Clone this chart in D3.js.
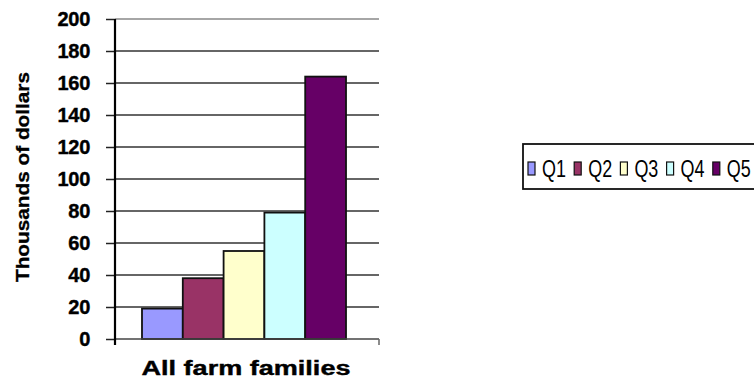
<!DOCTYPE html>
<html>
<head>
<meta charset="utf-8">
<script src="https://cdn.jsdelivr.net/npm/d3@7"></script>
<style>
  body { margin: 0; background: #fff; }
  svg { display: block; }
</style>
</head>
<body>
<svg id="chart" width="754" height="379"></svg>
<script>
const categories = ["All farm families"];
const seriesNames = ["Q1", "Q2", "Q3", "Q4", "Q5"];
const seriesValues = [19, 38, 55, 79, 164];
const seriesColors = ["#9999FF", "#993366", "#FFFFCC", "#CCFFFF", "#660066"];
const yTicks = [0, 20, 40, 60, 80, 100, 120, 140, 160, 180, 200];

const svg = d3.select("#chart");
const pL = 115, pR = 379, pT = 19, pB = 339;

const y = d3.scaleLinear().domain([0, 200]).range([pB, pT]);
const x0 = d3.scaleBand().domain(categories).range([pL, pR]).paddingInner(0).paddingOuter(0.147).align(0.45);
const x1 = d3.scaleBand().domain(seriesNames).range([0, x0.bandwidth()]).padding(0);

// gridlines
svg.append("g").selectAll("line").data(yTicks.filter(d => d > 0)).join("line")
  .attr("x1", pL).attr("x2", pR)
  .attr("y1", d => y(d)).attr("y2", d => y(d))
  .attr("stroke", (d) => d === 200 ? "#888" : "#333").attr("stroke-width", 1.5);

// y axis
const yAxis = svg.append("g").attr("transform", `translate(${pL},0)`)
  .call(d3.axisLeft(y).tickValues(yTicks).tickSize(9).tickPadding(16));
yAxis.select(".domain").remove();
yAxis.selectAll(".tick line").attr("stroke", "#222").attr("stroke-width", 1.5);
yAxis.selectAll(".tick text")
  .attr("font-family", "Liberation Sans, Arial, sans-serif")
  .attr("font-weight", "bold").attr("font-size", 20).attr("fill", "#000")
  .attr("stroke", "#000").attr("stroke-width", 0.4)
  .attr("letter-spacing", "-0.3");

// bars
const data = seriesNames.map((s, i) => ({ cat: categories[0], name: s, value: seriesValues[i], color: seriesColors[i] }));
svg.append("g").selectAll("rect").data(data).join("rect")
  .attr("x", d => x0(d.cat) + x1(d.name))
  .attr("y", d => y(d.value))
  .attr("width", x1.bandwidth())
  .attr("height", d => y(0) - y(d.value))
  .attr("fill", d => d.color)
  .attr("stroke", "#111").attr("stroke-width", 1.8);

// x axis
svg.append("line").attr("x1", pL).attr("x2", pR).attr("y1", pB).attr("y2", pB)
  .attr("stroke", "#444").attr("stroke-width", 1.5);
svg.append("line").attr("x1", pR).attr("x2", pR).attr("y1", pB).attr("y2", pB + 6)
  .attr("stroke", "#666").attr("stroke-width", 1.5);
// y axis line
svg.append("line").attr("x1", pL).attr("x2", pL).attr("y1", pT).attr("y2", pB + 6)
  .attr("stroke", "#000").attr("stroke-width", 2.2);

// x category label
svg.append("text")
  .attr("x", x0(categories[0]) + x0.bandwidth() / 2 + 2).attr("y", 375)
  .attr("text-anchor", "middle")
  .attr("font-family", "Liberation Sans, Arial, sans-serif")
  .attr("font-weight", "bold").attr("font-size", 20).attr("fill", "#000")
  .attr("stroke", "#000").attr("stroke-width", 0.4)
  .attr("textLength", 209).attr("lengthAdjust", "spacingAndGlyphs")
  .text(categories[0]);

// y title
svg.append("text")
  .attr("transform", "translate(29,177) rotate(-90)")
  .attr("text-anchor", "middle")
  .attr("font-family", "Liberation Sans, Arial, sans-serif")
  .attr("font-weight", "bold").attr("font-size", 19).attr("fill", "#000")
  .attr("stroke", "#000").attr("stroke-width", 0.3)
  .attr("textLength", 210).attr("lengthAdjust", "spacingAndGlyphs")
  .text("Thousands of dollars");

// legend
const lg = svg.append("g");
lg.append("rect").attr("x", 523).attr("y", 144).attr("width", 240).attr("height", 45)
  .attr("fill", "#fff").attr("stroke", "#111").attr("stroke-width", 1.8);
const items = lg.selectAll("g.item").data(data).join("g")
  .attr("transform", (d, i) => `translate(${528 + i * 46.2},0)`);
items.append("rect").attr("x", 0).attr("y", 162).attr("width", 7).attr("height", 13)
  .attr("fill", d => d.color).attr("stroke", "#111").attr("stroke-width", 1.2);
items.append("text")
  .attr("transform", "translate(14,177) scale(0.78,1)")
  .attr("font-family", "Liberation Sans, Arial, sans-serif")
  .attr("font-size", 23).attr("fill", "#000")
  .text(d => d.name);
</script>
</body>
</html>
